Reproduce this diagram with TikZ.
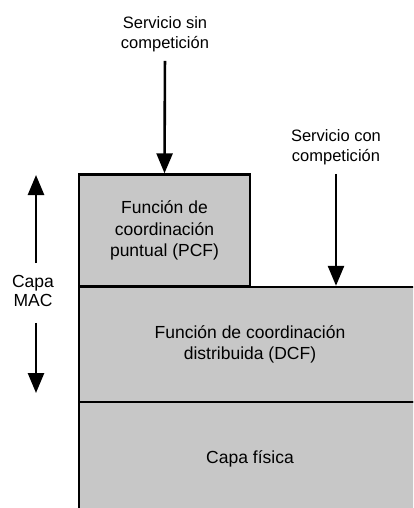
\documentclass[tikz,border=0pt]{standalone}
\usepackage{fontspec}
\setmainfont{Liberation Sans}
\usetikzlibrary{arrows.meta, positioning}
\tikzset{
  layer/.style   = {draw, line width=2.4pt, fill=black!22, align=center,
                    inner sep=0pt, font=\fontsize{17.5}{21.5}\selectfont},
  service/.style = {align=center, inner sep=0pt,
                    font=\fontsize{16.5}{20}\selectfont},
  flow/.style    = {line width=2.6pt, -{Triangle[width=16pt,length=20pt]}}
}

\begin{document}
\begin{tikzpicture}[x=1pt, y=-1pt]
  \useasboundingbox (0,0) rectangle (413,508);
  \clip (0,0) rectangle (413,508);

  % Layers of the stack
  \node (pcf) [layer, minimum width=171pt, minimum height=112pt]
    at (164.5,230.5) {Función de\\coordinación\\puntual (PCF)};
  \node (dcf) [layer, minimum width=342pt, minimum height=115pt]
    at (250,344.5) {Función de coordinación\\distribuida (DCF)};
  \node (phy) [layer, minimum width=342pt, minimum height=114pt]
    at (250,459) {Capa física};

  % Services
  \node (sin) [service] at (165,34) {Servicio sin\\competición};
  \node (con) [service] at (336,147) {Servicio con\\competición};
  \draw[flow, shorten <=9pt] (sin.south) -- (pcf.north);
  \draw[flow, shorten <=9pt] (con.south) -- (con.south |- dcf.north);

  % MAC layer span
  \node (mac) [service, font=\fontsize{17.5}{19}\selectfont]
    at (33,291) {Capa\\MAC};
  \coordinate (macTop) at (36,175);
  \coordinate (macBot) at (36,393);
  \draw[flow, shorten <=12pt] (mac.north -| macTop) -- (macTop);
  \draw[flow, shorten <=16pt] (mac.south -| macBot) -- (macBot);
\end{tikzpicture}
\end{document}
